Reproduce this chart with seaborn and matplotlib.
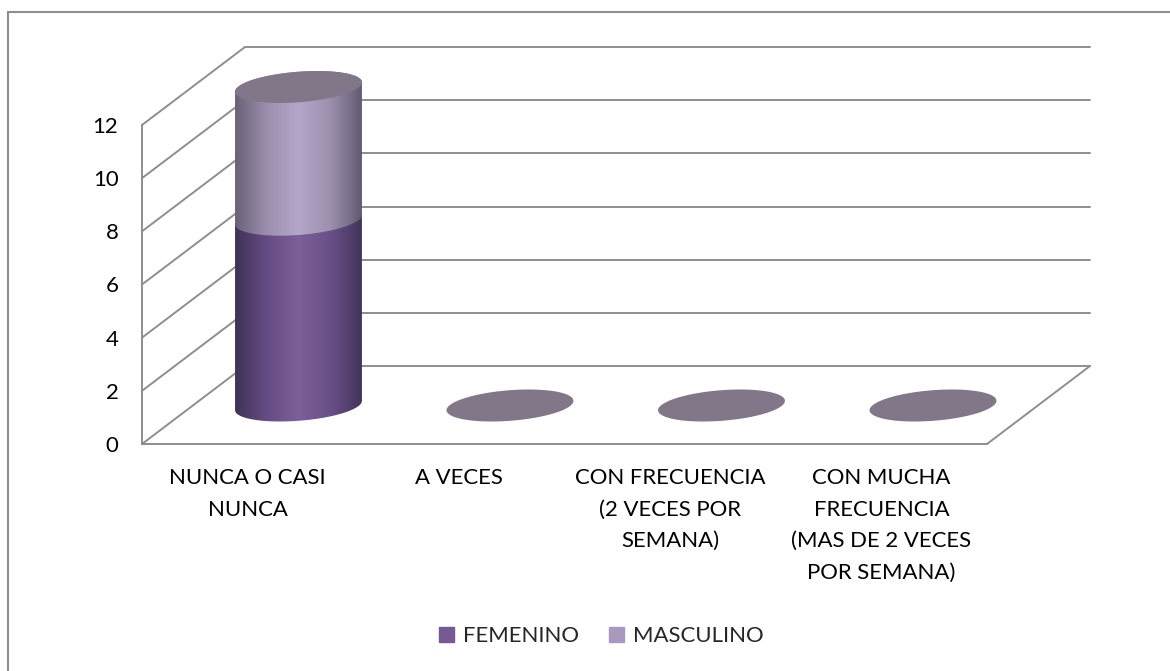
import matplotlib
matplotlib.use("Agg")
import matplotlib.pyplot as plt
import seaborn as sns
import pandas as pd
import numpy as np
from matplotlib.colors import LinearSegmentedColormap
from matplotlib.lines import Line2D
from matplotlib.patches import ConnectionPatch, Patch, PathPatch, Polygon
from matplotlib.path import Path

categories = ["NUNCA O CASI\nNUNCA", "A VECES", "CON FRECUENCIA\n(2 VECES POR\nSEMANA)",
              "CON MUCHA\nFRECUENCIA\n(MAS DE 2 VECES\nPOR SEMANA)"]
femenino = [7, 0, 0, 0]
masculino = [5, 0, 0, 0]
y_ticks = [0, 2, 4, 6, 8, 10, 12]

W, H = 1170, 671
GREY = "#8e8e8e"
TOP = "#827689"
FEM_COLOR = "#775a94"
MAS_COLOR = "#a899bd"
FEM_SHADES = ["#3f3355", "#654c84", "#7d5f99", "#6a5088", "#43355a"]
MAS_SHADES = ["#6a6178", "#9c8fae", "#b5a6ca", "#9c90ae", "#625a72"]
FONT_SIZE = 15.9

sns.set_theme(style="white")
plt.rcParams["font.family"] = ["Lato", "DejaVu Sans"]

fig = plt.figure(figsize=(W / 100, H / 100), dpi=100)


def px_axes(left, right, top, bottom, z):
    a = fig.add_axes([left / W, 1 - bottom / H, (right - left) / W, (bottom - top) / H], zorder=z)
    a.set_xlim(-0.5, 3.5)
    a.set_ylim(0, 12)
    a.patch.set_visible(False)
    sns.despine(ax=a, left=True, bottom=True)
    return a


# the three planes of the fake 3d box: back wall, cylinders, front edge
ax_back = px_axes(245, 1090, 47, 366, 1)
ax_bars = px_axes(192.75, 1038.75, 87, 405.5, 2)
ax_front = px_axes(142, 987, 125, 444, 3)

# back wall
ax_back.set_xticks([])
ax_back.set_yticks([])
for v in y_ticks:
    ax_back.axhline(v, color=GREY, lw=1.4, clip_on=False)
    ax_back.add_artist(ConnectionPatch((-0.5, v), (-0.5, v), "data", "data", axesA=ax_front, axesB=ax_back,
                                       color=GREY, lw=1.4))
ax_back.add_artist(ConnectionPatch((3.5, 0), (3.5, 0), "data", "data", axesA=ax_front, axesB=ax_back,
                                   color=GREY, lw=1.4))

# front edges and labels
for side in ["left", "bottom"]:
    ax_front.spines[side].set_visible(True)
    ax_front.spines[side].set_color(GREY)
    ax_front.spines[side].set_linewidth(1.4)
ax_front.set_yticks(y_ticks)
ax_front.set_xticks(range(len(categories)))
ax_front.set_xticklabels(categories, linespacing=1.71, va="top")
ax_front.tick_params(axis="both", length=0, labelsize=FONT_SIZE, colors="black")
ax_front.tick_params(axis="x", pad=17.5)
ax_front.tick_params(axis="y", pad=17)

# stacked bars, then turned into cylinders from their own geometry
df = pd.DataFrame({"cat": categories, "fem": femenino, "mas": masculino})
sns.barplot(data=df, x="cat", y="fem", order=categories, width=0.6, color=FEM_COLOR, ax=ax_bars)
sns.barplot(data=df, x="cat", y="mas", bottom=df["fem"], order=categories, width=0.6, color=MAS_COLOR, ax=ax_bars)
ax_bars.set_xlim(-0.5, 3.5)
ax_bars.set_ylim(0, 12)
ax_bars.set_xticks([])
ax_bars.set_yticks([])
ax_bars.set_xlabel("")
ax_bars.set_ylabel("")

px_y = 26.54  # px per value unit on the cylinder plane
t = np.linspace(0, 2 * np.pi, 181)


def rim(x0, w, v):
    xs = x0 + w / 2 + w / 2 * np.cos(t)
    ys = v + (4.7 * np.cos(t) + 15.3 * np.sin(t)) / px_y
    return np.column_stack([xs, ys])


def draw_cylinder(bar, shades):
    x0, w = bar.get_x(), bar.get_width()
    y0, h = bar.get_y(), bar.get_height()
    bar.set_visible(False)
    if h == 0:
        return
    low = rim(x0, w, y0)
    up = rim(x0, w, y0 + h)
    lower = low[t >= np.pi]
    upper = up[t <= np.pi]
    verts = np.vstack([lower, upper])
    clip = PathPatch(Path(np.vstack([verts, verts[0]])), transform=ax_bars.transData, fc="none", ec="none")
    ax_bars.add_patch(clip)
    cmap = LinearSegmentedColormap.from_list("cyl", shades)
    grad = np.linspace(0, 1, 256).reshape(1, -1)
    im = ax_bars.imshow(grad, cmap=cmap, aspect="auto", zorder=3 if y0 == 0 else 4,
                        extent=(x0, x0 + w, y0 - 1, y0 + h + 1), interpolation="bilinear")
    im.set_clip_box(fig.bbox)
    im.set_clip_path(clip)
    ax_bars.set_xlim(-0.5, 3.5)
    ax_bars.set_ylim(0, 12)


bars = list(ax_bars.patches)
n = len(categories)
for bar in bars[:n]:
    draw_cylinder(bar, FEM_SHADES)
for bar in bars[n:]:
    draw_cylinder(bar, MAS_SHADES)
for bar in bars[n:]:
    top = rim(bar.get_x(), bar.get_width(), bar.get_y() + bar.get_height())
    ax_bars.add_patch(Polygon(top, closed=True, fc=TOP, ec="none", zorder=6, clip_on=False))

# legend
fig.legend(handles=[Patch(color=FEM_COLOR, label="FEMENINO"), Patch(color=MAS_COLOR, label="MASCULINO")],
           loc="center", bbox_to_anchor=(601 / W, 1 - 636 / H), ncol=2, frameon=False, fontsize=FONT_SIZE,
           handlelength=0.68, handleheight=0.68, handletextpad=0.4, columnspacing=1.36)

# chart area border, only top and left show up in the crop
fig.add_artist(Line2D([8 / W, 8 / W, 1], [0, 1 - 11.5 / H, 1 - 11.5 / H], transform=fig.transFigure,
                      color=GREY, lw=1.5, solid_joinstyle="miter"))

fig.savefig("out.png", dpi=100)
